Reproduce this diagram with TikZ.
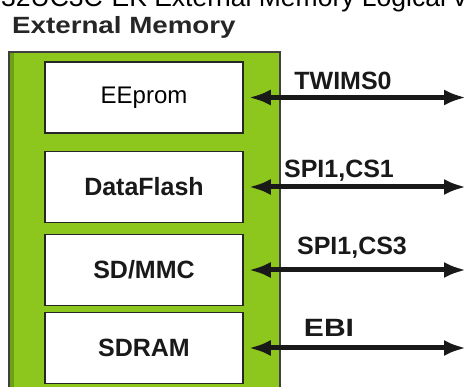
\documentclass[tikz,border=0pt]{standalone}
\usepackage{fontspec}
\setmainfont{Liberation Sans}
\usetikzlibrary{arrows.meta}
\definecolor{boardgreen}{RGB}{141,198,28}
\definecolor{darkgreen}{RGB}{110,160,20}
\tikzset{
  memorybox/.style={draw=black!85, line width=1.6pt, fill=white, minimum width=198pt, minimum height=71pt, inner sep=0pt},
  boldlabel/.style={font=\fontsize{25}{25}\selectfont\bfseries, text=black!90},
  buslabel/.style={font=\fontsize{25}{25}\selectfont\bfseries, text=black!90, anchor=base, inner sep=0pt},
  busarrow/.style={line width=5pt, black!90, {Latex[length=22pt,width=16pt]}-{Latex[length=22pt,width=16pt]}}
}
\begin{document}
\begin{tikzpicture}[x=1pt,y=-1pt]
\useasboundingbox (0,0) rectangle (467,387);
% title (clipped at top, as in the reference)
\node[anchor=base west, inner sep=0pt, font=\fontsize{26.5}{26.5}\selectfont] (title) at (1,7) {32UC3C-EK External Memory Logical view};
\node[anchor=base west, inner sep=0pt, font=\fontsize{23.5}{23.5}\selectfont\bfseries, text=black!85] (heading) at (12,33.3) {\scalebox{1.18}[1]{External Memory}};
% green board
\fill[boardgreen] (9,52) rectangle (280,395);
\fill[darkgreen] (9,52) rectangle (14,395);
\draw[black!75, line width=2pt] (9,395) -- (9,52) -- (280,52) -- (280,395);
% memory boxes
\node[memorybox, font=\fontsize{24}{24}\selectfont] (ee) at (144,97.5) {EEprom};
\node[memorybox, boldlabel] (df) at (144,187) {DataFlash};
\node[memorybox, boldlabel] (sd) at (144,270) {SD/MMC};
\node[memorybox, boldlabel] (ram) at (144,348) {SDRAM};
% free ends of the buses
\coordinate (eeR) at (466,97.5);
\coordinate (dfR) at (466,187);
\coordinate (sdR) at (466,270);
\coordinate (ramR) at (466,348);
\draw[busarrow] ([xshift=5pt]ee.east) -- (eeR);
\draw[busarrow] ([xshift=5pt]df.east) -- (dfR);
\draw[busarrow] ([xshift=5pt]sd.east) -- (sdR);
\draw[busarrow] ([xshift=5pt]ram.east) -- (ramR);
% bus labels
\node[buslabel] (l1) at (343,90) {TWIMS0};
\node[buslabel] (l2) at (339,178) {SPI1,CS1};
\node[buslabel] (l3) at (352,255) {SPI1,CS3};
\node[buslabel] (l4) at (329,336.7) {\scalebox{1.2}[1]{EBI}};
\end{tikzpicture}
\end{document}
